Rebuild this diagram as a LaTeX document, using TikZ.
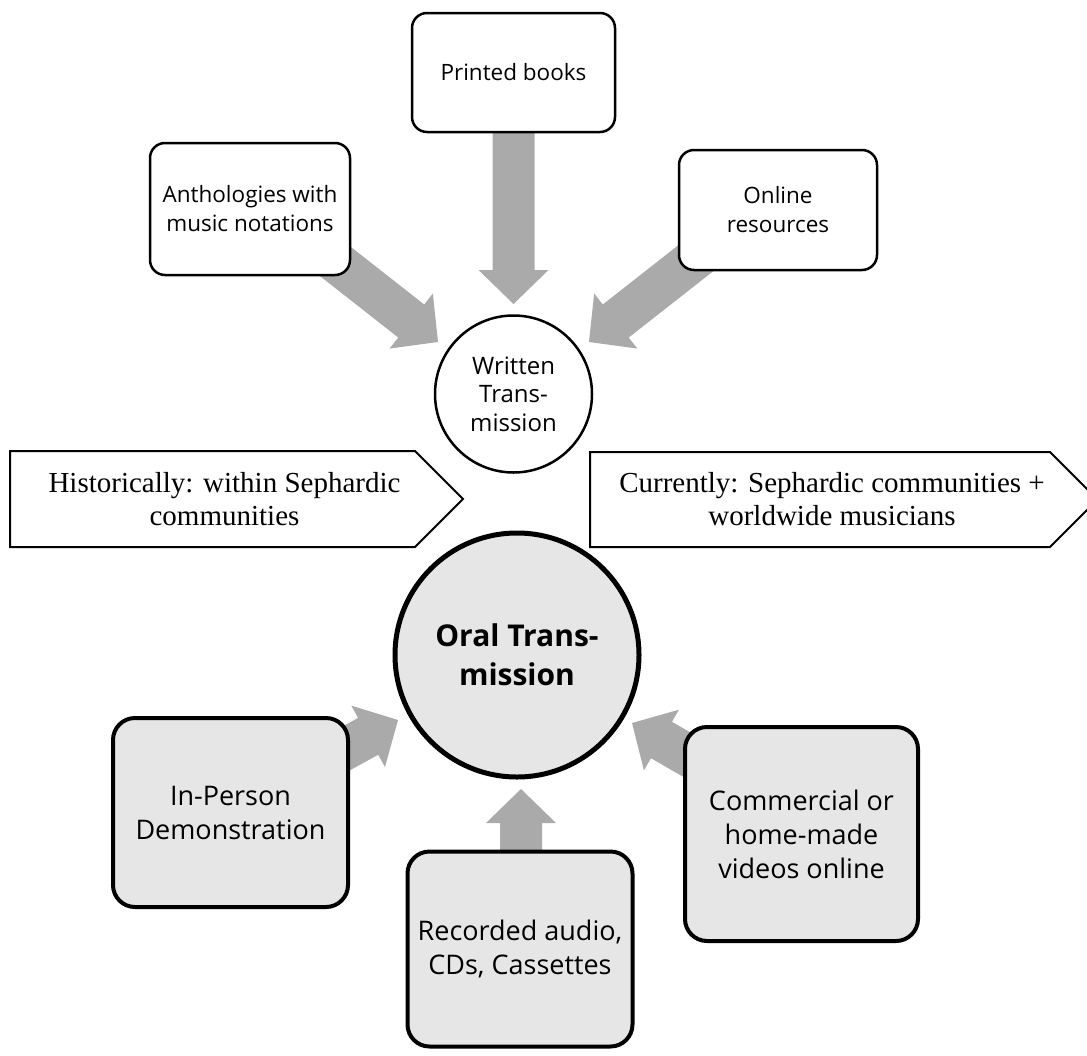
\documentclass[tikz,border=0pt]{standalone}
\usepackage{fontspec}
\setmainfont{Liberation Serif}
\newfontfamily\sansf{Open Sans}
\usetikzlibrary{calc}
\definecolor{arrowgray}{RGB}{170,170,170}
\definecolor{boxgray}{RGB}{230,230,230}
\newcommand\blockarrow[2]{%
  \path (#2) coordinate (tmpT) ($(#2)!34pt!(#1)$) coordinate (tmpH);
  \fill[arrowgray] ($(#1)!21pt!90:(tmpT)$) -- ($(tmpH)!21pt!90:(tmpT)$) -- ($(tmpH)!35pt!90:(tmpT)$) -- (tmpT)
    -- ($(tmpH)!35pt!-90:(tmpT)$) -- ($(tmpH)!21pt!-90:(tmpT)$) -- ($(#1)!21pt!-90:(tmpT)$) -- cycle;}
\begin{document}
\begin{tikzpicture}[x=1pt,y=-1pt,
  topbox/.style={draw=black, line width=2.5pt, fill=white, rounded corners=15pt, inner sep=0pt, align=center,
    font=\sansf\fontsize{22.5}{29}\selectfont},
  botbox/.style={draw=black, line width=4pt, fill=boxgray, rounded corners=22pt, inner sep=0pt, align=center,
    font=\sansf\fontsize{27}{34}\selectfont},
  penta/.style={draw=black, line width=2pt, fill=white},
  ptext/.style={align=center, inner sep=0pt, font=\fontsize{29}{33}\selectfont}]
\useasboundingbox (0,0) rectangle (1087,1055);
\clip (0,0) rectangle (1087,1055);

% coordinates for arrows
\coordinate (printS) at (513.5,72);
\coordinate (printT) at (513.5,304);
\coordinate (anthS) at (257,200);
\coordinate (anthT) at (438,342);
\coordinate (onlS) at (770,200);
\coordinate (onlT) at (589,342);
\coordinate (inpS) at (230,812);
\coordinate (inpT) at (398,720);
\coordinate (recS) at (521,950);
\coordinate (recT) at (521,789);
\coordinate (comS) at (800,820);
\coordinate (comT) at (632,723);

\blockarrow{printS}{printT}
\blockarrow{anthS}{anthT}
\blockarrow{onlS}{onlT}
\blockarrow{inpS}{inpT}
\blockarrow{recS}{recT}
\blockarrow{comS}{comT}

% top boxes
\node[topbox, minimum width=203, minimum height=119] (print) at (513.5,72.5) {Printed books};
\node[topbox, minimum width=200, minimum height=132] (anth) at (250,209) {Anthologies with\\music notations};
\node[topbox, minimum width=198, minimum height=120] (onl) at (778,210) {Online\\resources};

% written circle
\node[circle, draw=black, line width=2.5pt, fill=white, minimum size=157, inner sep=0pt, align=center,
  font=\sansf\fontsize{24}{28.5}\selectfont] (written) at (513.5,394) {Written\\Trans-\\mission};

% pentagons
\draw[penta] (10,451) -- (415,451) -- (463,499) -- (415,547) -- (10,547) -- cycle;
\node[ptext] (hist) at (224.5,499) {Historically: within Sephardic\\communities};
\draw[penta] (590,452) -- (1050,452) -- (1097.5,499.5) -- (1050,547) -- (590,547) -- cycle;
\node[ptext] (curr) at (832,499.5) {Currently: Sephardic communities +\\worldwide musicians};

% oral circle
\node[circle, draw=black, line width=5pt, fill=boxgray, minimum size=244, inner sep=0pt, align=center,
  font=\sansf\bfseries\fontsize{30}{39}\selectfont] (oral) at (517,655) {Oral Trans-\\mission};

% bottom boxes
\node[botbox, minimum width=235, minimum height=189] (inp) at (230.5,812.5) {In-Person\\Demonstration};
\node[botbox, minimum width=225, minimum height=195] (rec) at (520,949) {Recorded audio,\\CDs, Cassettes};
\node[botbox, minimum width=233, minimum height=214] (com) at (801.5,834) {Commercial or\\home-made\\videos online};
\end{tikzpicture}
\end{document}
